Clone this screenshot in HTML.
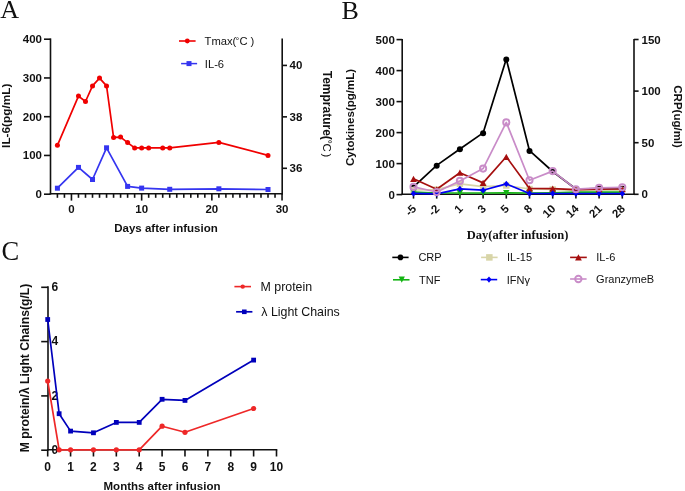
<!DOCTYPE html>
<html><head><meta charset="utf-8"><style>
html,body{margin:0;padding:0;background:#fff;}
body{width:685px;height:491px;overflow:hidden;}
svg{display:block;will-change:transform;}
text{font-family:"Liberation Sans",sans-serif;fill:#111;}
.lab{font-family:"Liberation Serif",serif;font-size:26px;}
.labc{font-family:"Liberation Serif",serif;font-size:26.5px;}
.tk{font-size:11.5px;font-weight:bold;}
.tkc{font-size:12px;font-weight:bold;}
.tt{font-size:11.5px;font-weight:bold;}
.tta{font-size:11.8px;font-weight:bold;}
.ttc{font-size:12.2px;font-weight:bold;}
.tts{font-family:"Liberation Serif",serif;font-size:12.5px;font-weight:bold;}
.tt12{font-size:12px;font-weight:bold;}
.degs{font-size:10px;}
.degs2{font-size:9.5px;fill:#111;}
.degc{font-size:11.5px;}
.lg{font-size:11.2px;fill:#111;}
.lgC{font-size:11.2px;fill:#111;}
.lgb{font-size:11px;fill:#111;}
.lgc{font-size:12.4px;fill:#111;}
</style></head><body>
<svg width="685" height="491" viewBox="0 0 685 491">
<rect width="685" height="491" fill="#fff"/>
<text x="0.3" y="17.9" class="lab" text-anchor="start" >A</text>
<line x1="50.5" y1="38.4" x2="50.5" y2="194.5" stroke="#111" stroke-width="1.6" />
<line x1="282.2" y1="38.4" x2="282.2" y2="194.5" stroke="#111" stroke-width="1.6" />
<line x1="49.7" y1="193.7" x2="283" y2="193.7" stroke="#111" stroke-width="1.6" />
<line x1="44" y1="194.2" x2="50.5" y2="194.2" stroke="#111" stroke-width="1.6" />
<text x="42" y="198.2" class="tk" text-anchor="end" >0</text>
<line x1="44" y1="155.45" x2="50.5" y2="155.45" stroke="#111" stroke-width="1.6" />
<text x="42" y="159.45" class="tk" text-anchor="end" >100</text>
<line x1="44" y1="116.7" x2="50.5" y2="116.7" stroke="#111" stroke-width="1.6" />
<text x="42" y="120.7" class="tk" text-anchor="end" >200</text>
<line x1="44" y1="77.95" x2="50.5" y2="77.95" stroke="#111" stroke-width="1.6" />
<text x="42" y="81.95" class="tk" text-anchor="end" >300</text>
<line x1="44" y1="39.2" x2="50.5" y2="39.2" stroke="#111" stroke-width="1.6" />
<text x="42" y="43.2" class="tk" text-anchor="end" >400</text>
<line x1="282.2" y1="168.3" x2="287" y2="168.3" stroke="#111" stroke-width="1.6" />
<text x="289.5" y="172.3" class="tk" text-anchor="start" >36</text>
<line x1="282.2" y1="116.86" x2="287" y2="116.86" stroke="#111" stroke-width="1.6" />
<text x="289.5" y="120.86" class="tk" text-anchor="start" >38</text>
<line x1="282.2" y1="65.42" x2="287" y2="65.42" stroke="#111" stroke-width="1.6" />
<text x="289.5" y="69.42" class="tk" text-anchor="start" >40</text>
<line x1="57.41" y1="193.7" x2="57.41" y2="197.8" stroke="#111" stroke-width="1.6" />
<line x1="64.43" y1="193.7" x2="64.43" y2="197.8" stroke="#111" stroke-width="1.6" />
<line x1="71.45" y1="193.7" x2="71.45" y2="200.6" stroke="#111" stroke-width="1.6" />
<text x="71.45" y="213.2" class="tk" text-anchor="middle" >0</text>
<line x1="78.47" y1="193.7" x2="78.47" y2="197.8" stroke="#111" stroke-width="1.6" />
<line x1="85.49" y1="193.7" x2="85.49" y2="197.8" stroke="#111" stroke-width="1.6" />
<line x1="92.51" y1="193.7" x2="92.51" y2="197.8" stroke="#111" stroke-width="1.6" />
<line x1="99.53" y1="193.7" x2="99.53" y2="197.8" stroke="#111" stroke-width="1.6" />
<line x1="106.55" y1="193.7" x2="106.55" y2="197.8" stroke="#111" stroke-width="1.6" />
<line x1="113.57" y1="193.7" x2="113.57" y2="197.8" stroke="#111" stroke-width="1.6" />
<line x1="120.59" y1="193.7" x2="120.59" y2="197.8" stroke="#111" stroke-width="1.6" />
<line x1="127.61" y1="193.7" x2="127.61" y2="197.8" stroke="#111" stroke-width="1.6" />
<line x1="134.63" y1="193.7" x2="134.63" y2="197.8" stroke="#111" stroke-width="1.6" />
<line x1="141.65" y1="193.7" x2="141.65" y2="200.6" stroke="#111" stroke-width="1.6" />
<text x="141.65" y="213.2" class="tk" text-anchor="middle" >10</text>
<line x1="148.67" y1="193.7" x2="148.67" y2="197.8" stroke="#111" stroke-width="1.6" />
<line x1="155.69" y1="193.7" x2="155.69" y2="197.8" stroke="#111" stroke-width="1.6" />
<line x1="162.71" y1="193.7" x2="162.71" y2="197.8" stroke="#111" stroke-width="1.6" />
<line x1="169.73" y1="193.7" x2="169.73" y2="197.8" stroke="#111" stroke-width="1.6" />
<line x1="176.75" y1="193.7" x2="176.75" y2="197.8" stroke="#111" stroke-width="1.6" />
<line x1="183.77" y1="193.7" x2="183.77" y2="197.8" stroke="#111" stroke-width="1.6" />
<line x1="190.79" y1="193.7" x2="190.79" y2="197.8" stroke="#111" stroke-width="1.6" />
<line x1="197.81" y1="193.7" x2="197.81" y2="197.8" stroke="#111" stroke-width="1.6" />
<line x1="204.83" y1="193.7" x2="204.83" y2="197.8" stroke="#111" stroke-width="1.6" />
<line x1="211.85" y1="193.7" x2="211.85" y2="200.6" stroke="#111" stroke-width="1.6" />
<text x="211.85" y="213.2" class="tk" text-anchor="middle" >20</text>
<line x1="218.87" y1="193.7" x2="218.87" y2="197.8" stroke="#111" stroke-width="1.6" />
<line x1="225.89" y1="193.7" x2="225.89" y2="197.8" stroke="#111" stroke-width="1.6" />
<line x1="232.91" y1="193.7" x2="232.91" y2="197.8" stroke="#111" stroke-width="1.6" />
<line x1="239.93" y1="193.7" x2="239.93" y2="197.8" stroke="#111" stroke-width="1.6" />
<line x1="246.95" y1="193.7" x2="246.95" y2="197.8" stroke="#111" stroke-width="1.6" />
<line x1="253.97" y1="193.7" x2="253.97" y2="197.8" stroke="#111" stroke-width="1.6" />
<line x1="260.99" y1="193.7" x2="260.99" y2="197.8" stroke="#111" stroke-width="1.6" />
<line x1="268.01" y1="193.7" x2="268.01" y2="197.8" stroke="#111" stroke-width="1.6" />
<line x1="275.03" y1="193.7" x2="275.03" y2="197.8" stroke="#111" stroke-width="1.6" />
<line x1="282.05" y1="193.7" x2="282.05" y2="200.6" stroke="#111" stroke-width="1.6" />
<text x="282.05" y="213.2" class="tk" text-anchor="middle" >30</text>
<text x="166" y="231.8" class="tt" text-anchor="middle" >Days after infusion</text>
<text x="10.3" y="115.8" class="tta" text-anchor="middle" transform="rotate(-90 10.3 115.8)" >IL-6(pg/mL)</text>
<g transform="translate(323.1,71) rotate(90)"><text x="-0.3" y="0" class="tt12">Temprature(</text><text x="68.7" y="-0.6" class="degs">°</text><text x="72.4" y="0" class="degc">C</text><text x="82.6" y="0" class="degc">)</text></g>
<polyline points="57.41,188.2 78.47,167.4 92.51,179.5 106.55,147.8 127.61,186.4 141.65,188.1 169.73,189.3 218.87,188.8 268.01,189.5" fill="none" stroke="#3535f0" stroke-width="1.7" stroke-linejoin="round"/>
<rect x="54.91" y="185.7" width="5" height="5" fill="#3535f0"/>
<rect x="75.97" y="164.9" width="5" height="5" fill="#3535f0"/>
<rect x="90.01" y="177" width="5" height="5" fill="#3535f0"/>
<rect x="104.05" y="145.3" width="5" height="5" fill="#3535f0"/>
<rect x="125.11" y="183.9" width="5" height="5" fill="#3535f0"/>
<rect x="139.15" y="185.6" width="5" height="5" fill="#3535f0"/>
<rect x="167.23" y="186.8" width="5" height="5" fill="#3535f0"/>
<rect x="216.37" y="186.3" width="5" height="5" fill="#3535f0"/>
<rect x="265.51" y="187" width="5" height="5" fill="#3535f0"/>
<polyline points="57.41,145.3 78.47,96.1 85.49,101.5 92.51,85.9 99.53,78.1 106.55,85.9 113.57,137.4 120.59,137.1 127.61,142.6 134.63,147.9 141.65,147.9 148.67,147.9 162.71,147.9 169.73,147.9 218.87,142.4 268.01,155.4" fill="none" stroke="#f00000" stroke-width="1.7" stroke-linejoin="round"/>
<circle cx="57.41" cy="145.3" r="2.5" fill="#f00000"/>
<circle cx="78.47" cy="96.1" r="2.5" fill="#f00000"/>
<circle cx="85.49" cy="101.5" r="2.5" fill="#f00000"/>
<circle cx="92.51" cy="85.9" r="2.5" fill="#f00000"/>
<circle cx="99.53" cy="78.1" r="2.5" fill="#f00000"/>
<circle cx="106.55" cy="85.9" r="2.5" fill="#f00000"/>
<circle cx="113.57" cy="137.4" r="2.5" fill="#f00000"/>
<circle cx="120.59" cy="137.1" r="2.5" fill="#f00000"/>
<circle cx="127.61" cy="142.6" r="2.5" fill="#f00000"/>
<circle cx="134.63" cy="147.9" r="2.5" fill="#f00000"/>
<circle cx="141.65" cy="147.9" r="2.5" fill="#f00000"/>
<circle cx="148.67" cy="147.9" r="2.5" fill="#f00000"/>
<circle cx="162.71" cy="147.9" r="2.5" fill="#f00000"/>
<circle cx="169.73" cy="147.9" r="2.5" fill="#f00000"/>
<circle cx="218.87" cy="142.4" r="2.5" fill="#f00000"/>
<circle cx="268.01" cy="155.4" r="2.5" fill="#f00000"/>
<line x1="179" y1="41" x2="195.6" y2="41" stroke="#f00000" stroke-width="1.6" />
<circle cx="187.3" cy="41" r="2.4" fill="#f00000"/>
<text x="204.6" y="44.8" class="lg" text-anchor="start" >Tmax(</text>
<text x="235.6" y="44.2" class="degs2" text-anchor="start" >°</text>
<text x="239.5" y="44.8" class="lgC" text-anchor="start" >C</text>
<text x="250.6" y="44.8" class="lg" text-anchor="start" >)</text>
<line x1="181.1" y1="63.6" x2="197.1" y2="63.6" stroke="#3535f0" stroke-width="1.5" />
<rect x="186.5" y="61.1" width="5" height="5" fill="#3535f0"/>
<text x="204.8" y="67.9" class="lg" text-anchor="start" >IL-6</text>
<text x="341.6" y="18.8" class="lab" text-anchor="start" >B</text>
<line x1="402.2" y1="38.9" x2="402.2" y2="195" stroke="#111" stroke-width="1.6" />
<line x1="634" y1="38.9" x2="634" y2="195" stroke="#111" stroke-width="1.6" />
<line x1="401.4" y1="194.2" x2="634.8" y2="194.2" stroke="#111" stroke-width="1.6" />
<line x1="396.5" y1="194.6" x2="402.2" y2="194.6" stroke="#111" stroke-width="1.6" />
<text x="394.8" y="198.6" class="tk" text-anchor="end" >0</text>
<line x1="396.5" y1="163.6" x2="402.2" y2="163.6" stroke="#111" stroke-width="1.6" />
<text x="394.8" y="167.6" class="tk" text-anchor="end" >100</text>
<line x1="396.5" y1="132.6" x2="402.2" y2="132.6" stroke="#111" stroke-width="1.6" />
<text x="394.8" y="136.6" class="tk" text-anchor="end" >200</text>
<line x1="396.5" y1="101.6" x2="402.2" y2="101.6" stroke="#111" stroke-width="1.6" />
<text x="394.8" y="105.6" class="tk" text-anchor="end" >300</text>
<line x1="396.5" y1="70.6" x2="402.2" y2="70.6" stroke="#111" stroke-width="1.6" />
<text x="394.8" y="74.6" class="tk" text-anchor="end" >400</text>
<line x1="396.5" y1="39.6" x2="402.2" y2="39.6" stroke="#111" stroke-width="1.6" />
<text x="394.8" y="43.6" class="tk" text-anchor="end" >500</text>
<line x1="634" y1="194.3" x2="638.6" y2="194.3" stroke="#111" stroke-width="1.6" />
<text x="641.5" y="198.3" class="tk" text-anchor="start" >0</text>
<line x1="634" y1="142.7" x2="638.6" y2="142.7" stroke="#111" stroke-width="1.6" />
<text x="641.5" y="146.7" class="tk" text-anchor="start" >50</text>
<line x1="634" y1="91.1" x2="638.6" y2="91.1" stroke="#111" stroke-width="1.6" />
<text x="641.5" y="95.1" class="tk" text-anchor="start" >100</text>
<line x1="634" y1="39.5" x2="638.6" y2="39.5" stroke="#111" stroke-width="1.6" />
<text x="641.5" y="43.5" class="tk" text-anchor="start" >150</text>
<line x1="413.5" y1="194.2" x2="413.5" y2="198.6" stroke="#111" stroke-width="1.6" />
<text x="417.1" y="209.4" class="tk" text-anchor="end" transform="rotate(-45 417.1 209.4)" >-5</text>
<line x1="436.7" y1="194.2" x2="436.7" y2="198.6" stroke="#111" stroke-width="1.6" />
<text x="440.3" y="209.4" class="tk" text-anchor="end" transform="rotate(-45 440.3 209.4)" >-2</text>
<line x1="459.9" y1="194.2" x2="459.9" y2="198.6" stroke="#111" stroke-width="1.6" />
<text x="463.5" y="209.4" class="tk" text-anchor="end" transform="rotate(-45 463.5 209.4)" >1</text>
<line x1="483.1" y1="194.2" x2="483.1" y2="198.6" stroke="#111" stroke-width="1.6" />
<text x="486.7" y="209.4" class="tk" text-anchor="end" transform="rotate(-45 486.7 209.4)" >3</text>
<line x1="506.3" y1="194.2" x2="506.3" y2="198.6" stroke="#111" stroke-width="1.6" />
<text x="509.9" y="209.4" class="tk" text-anchor="end" transform="rotate(-45 509.9 209.4)" >5</text>
<line x1="529.5" y1="194.2" x2="529.5" y2="198.6" stroke="#111" stroke-width="1.6" />
<text x="533.1" y="209.4" class="tk" text-anchor="end" transform="rotate(-45 533.1 209.4)" >8</text>
<line x1="552.7" y1="194.2" x2="552.7" y2="198.6" stroke="#111" stroke-width="1.6" />
<text x="556.3" y="209.4" class="tk" text-anchor="end" transform="rotate(-45 556.3 209.4)" >10</text>
<line x1="575.9" y1="194.2" x2="575.9" y2="198.6" stroke="#111" stroke-width="1.6" />
<text x="579.5" y="209.4" class="tk" text-anchor="end" transform="rotate(-45 579.5 209.4)" >14</text>
<line x1="599.1" y1="194.2" x2="599.1" y2="198.6" stroke="#111" stroke-width="1.6" />
<text x="602.7" y="209.4" class="tk" text-anchor="end" transform="rotate(-45 602.7 209.4)" >21</text>
<line x1="622.3" y1="194.2" x2="622.3" y2="198.6" stroke="#111" stroke-width="1.6" />
<text x="625.9" y="209.4" class="tk" text-anchor="end" transform="rotate(-45 625.9 209.4)" >28</text>
<text x="517.6" y="239" class="tts" text-anchor="middle" >Day(after infusion)</text>
<text x="353.6" y="117.5" class="tt" text-anchor="middle" transform="rotate(-90 353.6 117.5)" >Cytokines(pg/mL)</text>
<text x="674.2" y="116.6" class="tt" text-anchor="middle" transform="rotate(90 674.2 116.6)" >CRP(ug/ml)</text>
<polyline points="413.5,186.9 436.7,165.4 459.9,149 483.1,132.9 506.3,59.1 529.5,150.7 552.7,171.5 575.9,189 599.1,188.5 622.3,188.5" fill="none" stroke="#000" stroke-width="1.7" stroke-linejoin="round"/>
<circle cx="413.5" cy="187.2" r="3" fill="#000"/>
<circle cx="436.7" cy="165.7" r="3" fill="#000"/>
<circle cx="459.9" cy="149.3" r="3" fill="#000"/>
<circle cx="483.1" cy="133.2" r="3" fill="#000"/>
<circle cx="506.3" cy="59.4" r="3" fill="#000"/>
<circle cx="529.5" cy="151" r="3" fill="#000"/>
<circle cx="552.7" cy="171.8" r="3" fill="#000"/>
<circle cx="575.9" cy="189.3" r="3" fill="#000"/>
<circle cx="599.1" cy="188.8" r="3" fill="#000"/>
<circle cx="622.3" cy="188.8" r="3" fill="#000"/>
<polyline points="413.5,190 436.7,189.6 459.9,183.8 483.1,186.7 506.3,185.5 529.5,189 552.7,189.5 575.9,190.5 599.1,190.5 622.3,190.5" fill="none" stroke="#d8d5a8" stroke-width="1.7" stroke-linejoin="round"/>
<rect x="410.3" y="186.8" width="6.4" height="6.4" fill="#d8d5a8"/>
<rect x="433.5" y="186.4" width="6.4" height="6.4" fill="#d8d5a8"/>
<rect x="456.7" y="180.6" width="6.4" height="6.4" fill="#d8d5a8"/>
<rect x="479.9" y="183.5" width="6.4" height="6.4" fill="#d8d5a8"/>
<rect x="503.1" y="182.3" width="6.4" height="6.4" fill="#d8d5a8"/>
<rect x="526.3" y="185.8" width="6.4" height="6.4" fill="#d8d5a8"/>
<rect x="549.5" y="186.3" width="6.4" height="6.4" fill="#d8d5a8"/>
<rect x="572.7" y="187.3" width="6.4" height="6.4" fill="#d8d5a8"/>
<rect x="595.9" y="187.3" width="6.4" height="6.4" fill="#d8d5a8"/>
<rect x="619.1" y="187.3" width="6.4" height="6.4" fill="#d8d5a8"/>
<polyline points="413.5,192.2 436.7,193 459.9,193 483.1,193 506.3,192.8 529.5,193 552.7,192.8 575.9,192.2 599.1,192.2 622.3,192.2" fill="none" stroke="#14b414" stroke-width="1.7" stroke-linejoin="round"/>
<polygon points="413.5,195.1 410.3,189.3 416.7,189.3" fill="#14b414"/>
<polygon points="436.7,195.9 433.5,190.1 439.9,190.1" fill="#14b414"/>
<polygon points="459.9,195.9 456.7,190.1 463.1,190.1" fill="#14b414"/>
<polygon points="483.1,195.9 479.9,190.1 486.3,190.1" fill="#14b414"/>
<polygon points="506.3,195.7 503.1,189.9 509.5,189.9" fill="#14b414"/>
<polygon points="529.5,195.9 526.3,190.1 532.7,190.1" fill="#14b414"/>
<polygon points="552.7,195.7 549.5,189.9 555.9,189.9" fill="#14b414"/>
<polygon points="575.9,195.1 572.7,189.3 579.1,189.3" fill="#14b414"/>
<polygon points="599.1,195.1 595.9,189.3 602.3,189.3" fill="#14b414"/>
<polygon points="622.3,195.1 619.1,189.3 625.5,189.3" fill="#14b414"/>
<polyline points="413.5,178.8 436.7,189.3 459.9,172.7 483.1,182.9 506.3,156.8 529.5,188.4 552.7,188.7 575.9,189.7 599.1,189.2 622.3,189" fill="none" stroke="#a50f0f" stroke-width="1.7" stroke-linejoin="round"/>
<polygon points="413.5,175.7 410.1,181.9 416.9,181.9" fill="#a50f0f"/>
<polygon points="436.7,186.2 433.3,192.4 440.1,192.4" fill="#a50f0f"/>
<polygon points="459.9,169.6 456.5,175.8 463.3,175.8" fill="#a50f0f"/>
<polygon points="483.1,179.8 479.7,186 486.5,186" fill="#a50f0f"/>
<polygon points="506.3,153.7 502.9,159.9 509.7,159.9" fill="#a50f0f"/>
<polygon points="529.5,185.3 526.1,191.5 532.9,191.5" fill="#a50f0f"/>
<polygon points="552.7,185.6 549.3,191.8 556.1,191.8" fill="#a50f0f"/>
<polygon points="575.9,186.6 572.5,192.8 579.3,192.8" fill="#a50f0f"/>
<polygon points="599.1,186.1 595.7,192.3 602.5,192.3" fill="#a50f0f"/>
<polygon points="622.3,185.9 618.9,192.1 625.7,192.1" fill="#a50f0f"/>
<polyline points="413.5,193.4 436.7,193.8 459.9,188.9 483.1,190.2 506.3,183.9 529.5,193.5 552.7,193.5 575.9,193.5 599.1,193.5 622.3,193.5" fill="none" stroke="#0000f5" stroke-width="1.7" stroke-linejoin="round"/>
<polygon points="413.5,190.2 416.3,193.4 413.5,196.6 410.7,193.4" fill="#0000f5"/>
<polygon points="436.7,190.6 439.5,193.8 436.7,197 433.9,193.8" fill="#0000f5"/>
<polygon points="459.9,185.7 462.7,188.9 459.9,192.1 457.1,188.9" fill="#0000f5"/>
<polygon points="483.1,187 485.9,190.2 483.1,193.4 480.3,190.2" fill="#0000f5"/>
<polygon points="506.3,180.7 509.1,183.9 506.3,187.1 503.5,183.9" fill="#0000f5"/>
<polygon points="529.5,190.3 532.3,193.5 529.5,196.7 526.7,193.5" fill="#0000f5"/>
<polygon points="552.7,190.3 555.5,193.5 552.7,196.7 549.9,193.5" fill="#0000f5"/>
<polygon points="575.9,190.3 578.7,193.5 575.9,196.7 573.1,193.5" fill="#0000f5"/>
<polygon points="599.1,190.3 601.9,193.5 599.1,196.7 596.3,193.5" fill="#0000f5"/>
<polygon points="622.3,190.3 625.1,193.5 622.3,196.7 619.5,193.5" fill="#0000f5"/>
<polyline points="413.5,186.9 436.7,192 459.9,180.9 483.1,168.6 506.3,122.4 529.5,180.2 552.7,171.1 575.9,189.2 599.1,187.8 622.3,187.3" fill="none" stroke="#c98cc8" stroke-width="1.7" stroke-linejoin="round"/>
<circle cx="413.5" cy="186.9" r="3.1" fill="none" stroke="#c98cc8" stroke-width="1.9"/>
<circle cx="436.7" cy="192" r="3.1" fill="none" stroke="#c98cc8" stroke-width="1.9"/>
<circle cx="459.9" cy="180.9" r="3.1" fill="none" stroke="#c98cc8" stroke-width="1.9"/>
<circle cx="483.1" cy="168.6" r="3.1" fill="none" stroke="#c98cc8" stroke-width="1.9"/>
<circle cx="506.3" cy="122.4" r="3.1" fill="none" stroke="#c98cc8" stroke-width="1.9"/>
<circle cx="529.5" cy="180.2" r="3.1" fill="none" stroke="#c98cc8" stroke-width="1.9"/>
<circle cx="552.7" cy="171.1" r="3.1" fill="none" stroke="#c98cc8" stroke-width="1.9"/>
<circle cx="575.9" cy="189.2" r="3.1" fill="none" stroke="#c98cc8" stroke-width="1.9"/>
<circle cx="599.1" cy="187.8" r="3.1" fill="none" stroke="#c98cc8" stroke-width="1.9"/>
<circle cx="622.3" cy="187.3" r="3.1" fill="none" stroke="#c98cc8" stroke-width="1.9"/>
<line x1="392.3" y1="257.4" x2="408.6" y2="257.4" stroke="#000" stroke-width="1.6" />
<circle cx="400.45" cy="257.4" r="2.8" fill="#000"/>
<text x="418.4" y="261.3" class="lgb" text-anchor="start" >CRP</text>
<line x1="481.1" y1="257.4" x2="497.6" y2="257.4" stroke="#d8d5a8" stroke-width="1.6" />
<rect x="486.1" y="254.15" width="6.5" height="6.5" fill="#d8d5a8"/>
<text x="507" y="261.3" class="lgb" text-anchor="start" >IL-15</text>
<line x1="570.1" y1="257.4" x2="586.8" y2="257.4" stroke="#a50f0f" stroke-width="1.6" />
<polygon points="578.45,254.3 575.05,260.5 581.85,260.5" fill="#a50f0f"/>
<text x="596.3" y="261.3" class="lgb" text-anchor="start" >IL-6</text>
<line x1="393" y1="279.8" x2="409.5" y2="279.8" stroke="#14b414" stroke-width="1.6" />
<polygon points="401.75,282.8 398.6,276.6 404.9,276.6" fill="#14b414"/>
<text x="419" y="283.7" class="lgb" text-anchor="start" >TNF</text>
<line x1="480.8" y1="279.6" x2="497.2" y2="279.6" stroke="#0000f5" stroke-width="1.6" />
<polygon points="489,276.5 491.6,279.6 489,282.7 486.4,279.6" fill="#0000f5"/>
<text x="506.8" y="283.5" class="lgb" text-anchor="start" >IFNγ</text>
<line x1="570.1" y1="279" x2="586.6" y2="279" stroke="#c98cc8" stroke-width="1.6" />
<circle cx="578.35" cy="279" r="3.2" fill="none" stroke="#c98cc8" stroke-width="1.9"/>
<text x="596.1" y="282.9" class="lgb" text-anchor="start" >GranzymeB</text>
<text x="1.5" y="260.2" class="labc" text-anchor="start" >C</text>
<line x1="48" y1="286.2" x2="48" y2="450.6" stroke="#111" stroke-width="1.6" />
<line x1="47.2" y1="449.8" x2="277.3" y2="449.8" stroke="#111" stroke-width="1.6" />
<line x1="41.2" y1="450.2" x2="48" y2="450.2" stroke="#111" stroke-width="1.6" />
<text x="51.5" y="453.8" class="tkc" text-anchor="start" >0</text>
<line x1="41.2" y1="395.9" x2="48" y2="395.9" stroke="#111" stroke-width="1.6" />
<text x="51.5" y="399.5" class="tkc" text-anchor="start" >2</text>
<line x1="41.2" y1="341.6" x2="48" y2="341.6" stroke="#111" stroke-width="1.6" />
<text x="51.5" y="345.2" class="tkc" text-anchor="start" >4</text>
<line x1="41.2" y1="287.3" x2="48" y2="287.3" stroke="#111" stroke-width="1.6" />
<text x="51.5" y="290.9" class="tkc" text-anchor="start" >6</text>
<line x1="47.7" y1="449.8" x2="47.7" y2="456.5" stroke="#111" stroke-width="1.6" />
<text x="47.7" y="471" class="tkc" text-anchor="middle" >0</text>
<line x1="70.58" y1="449.8" x2="70.58" y2="456.5" stroke="#111" stroke-width="1.6" />
<text x="70.58" y="471" class="tkc" text-anchor="middle" >1</text>
<line x1="93.46" y1="449.8" x2="93.46" y2="456.5" stroke="#111" stroke-width="1.6" />
<text x="93.46" y="471" class="tkc" text-anchor="middle" >2</text>
<line x1="116.34" y1="449.8" x2="116.34" y2="456.5" stroke="#111" stroke-width="1.6" />
<text x="116.34" y="471" class="tkc" text-anchor="middle" >3</text>
<line x1="139.22" y1="449.8" x2="139.22" y2="456.5" stroke="#111" stroke-width="1.6" />
<text x="139.22" y="471" class="tkc" text-anchor="middle" >4</text>
<line x1="162.1" y1="449.8" x2="162.1" y2="456.5" stroke="#111" stroke-width="1.6" />
<text x="162.1" y="471" class="tkc" text-anchor="middle" >5</text>
<line x1="184.98" y1="449.8" x2="184.98" y2="456.5" stroke="#111" stroke-width="1.6" />
<text x="184.98" y="471" class="tkc" text-anchor="middle" >6</text>
<line x1="207.86" y1="449.8" x2="207.86" y2="456.5" stroke="#111" stroke-width="1.6" />
<text x="207.86" y="471" class="tkc" text-anchor="middle" >7</text>
<line x1="230.74" y1="449.8" x2="230.74" y2="456.5" stroke="#111" stroke-width="1.6" />
<text x="230.74" y="471" class="tkc" text-anchor="middle" >8</text>
<line x1="253.62" y1="449.8" x2="253.62" y2="456.5" stroke="#111" stroke-width="1.6" />
<text x="253.62" y="471" class="tkc" text-anchor="middle" >9</text>
<line x1="276.5" y1="449.8" x2="276.5" y2="456.5" stroke="#111" stroke-width="1.6" />
<text x="276.5" y="471" class="tkc" text-anchor="middle" >10</text>
<text x="162" y="489.6" class="tt" text-anchor="middle" >Months after infusion</text>
<text x="28.7" y="368" class="ttc" text-anchor="middle" transform="rotate(-90 28.7 368)" >M protein/λ Light Chains(g/L)</text>
<polyline points="47.7,319.5 59.14,413.7 70.58,431.1 93.46,432.8 116.34,422.4 139.22,422.4 162.1,399.3 184.98,400.4 253.62,360.1" fill="none" stroke="#0000bb" stroke-width="1.7" stroke-linejoin="round"/>
<rect x="45.3" y="317.1" width="4.8" height="4.8" fill="#0000bb"/>
<rect x="56.74" y="411.3" width="4.8" height="4.8" fill="#0000bb"/>
<rect x="68.18" y="428.7" width="4.8" height="4.8" fill="#0000bb"/>
<rect x="91.06" y="430.4" width="4.8" height="4.8" fill="#0000bb"/>
<rect x="113.94" y="420" width="4.8" height="4.8" fill="#0000bb"/>
<rect x="136.82" y="420" width="4.8" height="4.8" fill="#0000bb"/>
<rect x="159.7" y="396.9" width="4.8" height="4.8" fill="#0000bb"/>
<rect x="182.58" y="398" width="4.8" height="4.8" fill="#0000bb"/>
<rect x="251.22" y="357.7" width="4.8" height="4.8" fill="#0000bb"/>
<polyline points="47.7,381 59.14,449.8 70.58,449.8 93.46,449.8 116.34,449.8 139.22,449.8 162.1,426.2 184.98,432.3 253.62,408.5" fill="none" stroke="#ee2828" stroke-width="1.7" stroke-linejoin="round"/>
<circle cx="47.7" cy="381" r="2.6" fill="#ee2828"/>
<circle cx="59.14" cy="449.8" r="2.6" fill="#ee2828"/>
<circle cx="70.58" cy="449.8" r="2.6" fill="#ee2828"/>
<circle cx="93.46" cy="449.8" r="2.6" fill="#ee2828"/>
<circle cx="116.34" cy="449.8" r="2.6" fill="#ee2828"/>
<circle cx="139.22" cy="449.8" r="2.6" fill="#ee2828"/>
<circle cx="162.1" cy="426.2" r="2.6" fill="#ee2828"/>
<circle cx="184.98" cy="432.3" r="2.6" fill="#ee2828"/>
<circle cx="253.62" cy="408.5" r="2.6" fill="#ee2828"/>
<line x1="234.4" y1="286.6" x2="251" y2="286.6" stroke="#ee2828" stroke-width="1.6" />
<circle cx="242.7" cy="286.6" r="2.2" fill="#ee2828"/>
<text x="260.5" y="291.4" class="lgc" text-anchor="start" >M protein</text>
<line x1="236.1" y1="311.8" x2="252.4" y2="311.8" stroke="#0000bb" stroke-width="1.7" />
<rect x="242" y="309.5" width="4.6" height="4.6" fill="#0000bb"/>
<text x="261.3" y="316.4" class="lgc" text-anchor="start" >λ Light Chains</text>
</svg>
</body></html>
